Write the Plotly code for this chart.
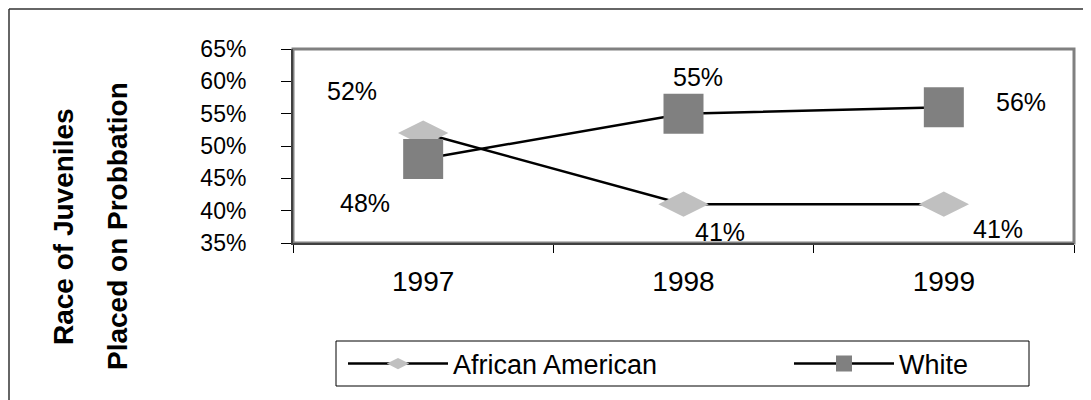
import plotly.graph_objects as go

# ---- data ----
years = ["1997", "1998", "1999"]
african_american = [52, 41, 41]
white = [48, 55, 56]
y_ticks = [35, 40, 45, 50, 55, 60, 65]
series_names = ["African American", "White"]

# ---- styling constants (pixel geometry measured on the reference) ----
PAGE_OFF = 8                      # default body margin of the html page
W_REF, H_REF = 1091, 400
L, R, T, B = 293, 1074, 49, 243   # plot area in reference pixels
pw, ph = R - L, B - T


def px_x(p):
    return (p - L) / pw


def px_y(p):
    return (B - p) / ph


FONT = "Liberation Sans, Arial, sans-serif"
label_shift_aa = [(-71, 42), (36, -28), (54, -25)]
label_shift_w = [(-58, -44), (14, 37), (77, 5)]
FRAME = 9  # outer frame position (page px), as close to the reference's 7 as the page allows

fig = go.Figure()
fig.add_trace(go.Scatter(
    x=years, y=african_american, name=series_names[0], mode="lines+markers",
    line=dict(color="black", width=2.5),
    marker=dict(symbol="diamond-wide", size=36, color="#C0C0C0", line=dict(width=0)),
    legend="legend",
))
fig.add_trace(go.Scatter(
    x=years, y=white, name=series_names[1], mode="lines+markers",
    line=dict(color="black", width=2.5),
    marker=dict(symbol="square", size=40, color="#808080", line=dict(width=0)),
    legend="legend2",
))

annotations = []
for vals, shifts in ((african_american, label_shift_aa), (white, label_shift_w)):
    for i, (yv, (dx, dy)) in enumerate(zip(vals, shifts)):
        annotations.append(dict(
            x=i, y=yv, xref="x", yref="y", text=f"{yv}%", showarrow=False,
            xshift=dx, yshift=dy, font=dict(family=FONT, size=25, color="black"),
        ))

# y-axis title, two lines
for text, xc in (("Race of Juveniles", 63), ("Placed on Probbation", 117)):
    annotations.append(dict(
        x=px_x(xc), y=px_y(226), xref="paper", yref="paper", text=text,
        textangle=-90, showarrow=False, xanchor="center", yanchor="middle",
        font=dict(family=FONT, size=28, color="black", weight="bold"),
    ))

shapes = [
    # plot-area frame (gray)
    dict(type="rect", xref="paper", yref="paper", x0=0, x1=1, y0=0, y1=1,
         line=dict(color="#808080", width=3), layer="below"),
    # outer chart frame (top and left only visible)
    dict(type="line", xref="paper", yref="paper", x0=px_x(FRAME), x1=px_x(1100),
         y0=px_y(FRAME), y1=px_y(FRAME), line=dict(color="#333333", width=1.5)),
    dict(type="line", xref="paper", yref="paper", x0=px_x(FRAME), x1=px_x(FRAME),
         y0=px_y(FRAME), y1=px_y(410), line=dict(color="#333333", width=1.5)),
    # legend box
    dict(type="rect", xref="paper", yref="paper", x0=px_x(336), x1=px_x(1029),
         y0=px_y(386), y1=px_y(341), line=dict(color="black", width=1)),
]

fig.update_layout(
    width=W_REF - PAGE_OFF, height=H_REF - PAGE_OFF,
    margin=dict(l=L - PAGE_OFF, r=W_REF - R, t=T - PAGE_OFF, b=H_REF - B, pad=0),
    paper_bgcolor="white", plot_bgcolor="white",
    font=dict(family=FONT, color="black"),
    xaxis=dict(
        type="category", range=[-0.5, 2.5], tickson="boundaries",
        ticks="outside", ticklen=8, tickcolor="black", tickwidth=1,
        showline=True, linecolor="#404040", linewidth=2,
        showgrid=False, zeroline=False,
        tickfont=dict(family=FONT, size=28), ticklabelstandoff=12,
    ),
    yaxis=dict(
        range=[35, 65], tickvals=y_ticks, ticktext=[f"{v}%" for v in y_ticks],
        ticks="outside", ticklen=10, tickcolor="black", tickwidth=1,
        showline=True, linecolor="#404040", linewidth=2,
        showgrid=False, zeroline=False,
        tickfont=dict(family=FONT, size=23), ticklabelstandoff=30,
    ),
    showlegend=True,
    legend=dict(
        orientation="h", x=px_x(343), y=px_y(364), xanchor="left", yanchor="middle",
        font=dict(family=FONT, size=27), bgcolor="rgba(0,0,0,0)", borderwidth=0,
        itemwidth=100,
    ),
    legend2=dict(
        orientation="h", x=px_x(789), y=px_y(364), xanchor="left", yanchor="middle",
        font=dict(family=FONT, size=27), bgcolor="rgba(0,0,0,0)", borderwidth=0,
        itemwidth=100,
    ),
    annotations=annotations,
    shapes=shapes,
)

fig.write_html("out.html")
